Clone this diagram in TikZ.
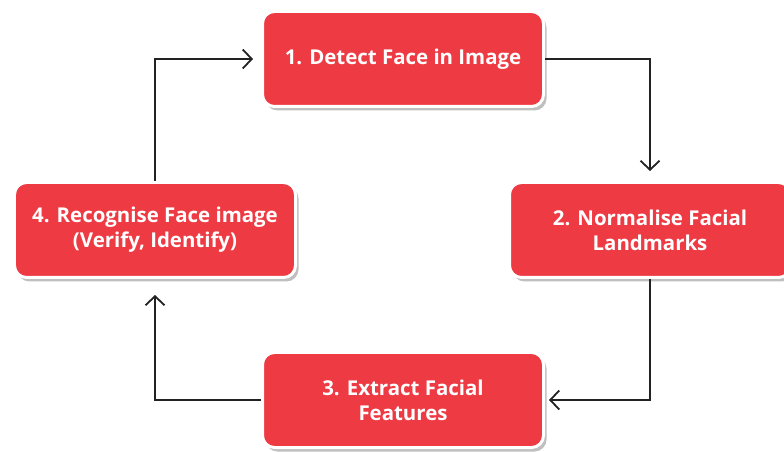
\documentclass[tikz,border=0pt]{standalone}
\usepackage{fontspec}
\setmainfont{Open Sans}
\usetikzlibrary{arrows.meta,shadows}
\definecolor{boxred}{RGB}{238,58,67}
\definecolor{linegray}{RGB}{34,34,34}

\begin{document}
\begin{tikzpicture}[x=1bp, y=-1bp, >={Straight Barb[length=9bp,width=19bp]},
    stagebox/.style={rectangle, rounded corners=12bp, fill=boxred, draw=white,
        line width=3bp, minimum width=281bp, minimum height=95bp, text=white,
        align=center, font=\bfseries\fontsize{20.5}{25}\selectfont,
        drop shadow={shadow xshift=3bp, shadow yshift=-4bp, fill=black, opacity=0.25}},
    flow/.style={->, linegray, line width=1.8bp}]
    % Area
    \useasboundingbox (0,0) rectangle (784,452);
    \clip (0,0) rectangle (784,452);

    % Fasi
    \node[stagebox] (detect)  at (403,59)  {1. Detect Face in Image};
    \node[stagebox] (normal)  at (650,230) {2. Normalise Facial\\Landmarks};
    \node[stagebox] (extract) at (403,400) {3. Extract Facial\\Features};
    \node[stagebox] (recog)   at (155,230) {4. Recognise Face image\\(Verify, Identify)};

    % Ciclo
    \draw[flow, shorten >=10bp] (detect.east) -| (normal.north);
    \draw[flow, shorten >=4bp]  (normal.south) |- (extract.east);
    \draw[flow, shorten >=16bp] (extract.west) -| (recog.south);
    \draw[flow, shorten >=8bp]  (recog.north) |- (detect.west);
\end{tikzpicture}
\end{document}
